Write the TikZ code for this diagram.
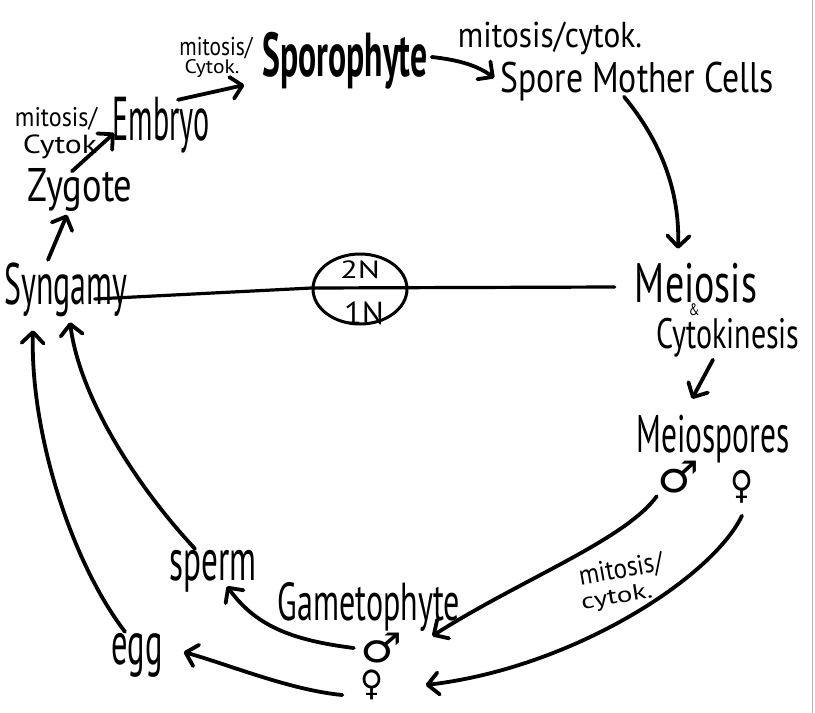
\documentclass[tikz,border=0pt]{standalone}
\usepackage{fontspec}
\setmainfont{PT Sans}
\newfontfamily\symfont{DejaVu Sans}
\usetikzlibrary{arrows.meta,calc,shapes.geometric}
\newcommand\hw[3]{\resizebox*{#1pt}{#2pt}{#3}}
\begin{document}
\begin{tikzpicture}[x=1pt,y=-1pt,
  lbl/.style={inner sep=0pt, font=\normalfont},
  big/.style={inner sep=0pt, font=\bfseries},
  sml/.style={inner sep=0pt, font=\normalfont},
  arr/.style={line width=3.8pt, line cap=round, line join=round, -{Straight Barb[length=11pt,width=22pt,line cap=round,line join=round]}},
  ln/.style={line width=3.2pt, line cap=round, line join=round}]
\useasboundingbox (0,0) rectangle (815,713);
\fill[white] (0,0) rectangle (815,713);
\draw[gray!60, line width=1.5pt] (812.5,0) -- (812.5,713);

% nodes
\node[big] (sporo) at (345,61) {\hw{165}{57}{Sporophyte}};
\node[lbl] (smc) at (637,82) {\hw{273}{39}{Spore Mother Cells}};
\node[sml] (mc1) at (550,38) {\hw{184}{33}{mitosis/cytok.}};
\node[sml] (mc2a) at (216,48) {\hw{73}{22}{mitosis/}};
\node[sml] (mc2b) at (212,69) {\hw{55}{18}{Cytok.}};
\node[lbl] (emb) at (161,125) {\hw{97}{56}{Embryo}};
\node[sml] (mc3a) at (56,119) {\hw{82}{23}{mitosis/}};
\node[sml] (mc3b) at (60,147) {\hw{74}{24}{Cytok}};
\node[lbl] (zyg) at (80,190) {\hw{105}{43}{Zygote}};
\node[lbl] (syn) at (66,290) {\hw{123}{54}{Syngamy}};
\node[draw, ellipse, line width=3pt, minimum width=94pt, minimum height=70pt] (pl) at (360,289) {};
\node[lbl] (n2) at (360,270) {\hw{40}{18}{2N}};
\node[lbl] (n1) at (364,313) {\hw{40}{23}{1N}};
\node[lbl] (meio) at (696,283) {\hw{122}{40}{Meiosis}};
\node[sml] (amp) at (694,310) {\hw{11}{12}{\&}};
\node[lbl] (cyt) at (728,338) {\hw{143}{39}{Cytokinesis}};
\node[lbl] (meos) at (713,439) {\hw{153}{48}{Meiospores}};
\node[lbl] (mm) at (678,477) {\hw{42}{32}{\symfont ♂}};
\node[lbl] (fm) at (742,487) {\hw{23}{33}{\symfont ♀}};
\node[sml, rotate=10] (mc4a) at (621,570) {\hw{85}{24}{mitosis/}};
\node[sml, rotate=9] (mc4b) at (617,598) {\hw{72}{20}{cytok.}};
\node[lbl] (game) at (369,607) {\hw{182}{49}{Gametophyte}};
\node[lbl] (gm) at (381,648) {\hw{42}{30}{\symfont ♂}};
\node[lbl] (fg) at (372,685) {\hw{23}{30}{\symfont ♀}};
\node[lbl] (sperm) at (213,571) {\hw{87}{42}{sperm}};
\node[lbl] (egg) at (137,655) {\hw{51}{44}{egg}};

% ploidy line
\draw[ln] ($(syn.east)+(-33,9)$) -- ($(pl.west)+(0,-1)$) -- ($(meio.west)+(-20,4)$);

% connectors
\draw[arr] ($(syn.north)+(-18,-3)$) -- ($(zyg.south)+(-13,3)$);
\draw[arr] ($(zyg.north)+(-8,3)$) -- ($(emb.west)+(2,8)$);
\draw[arr] ($(emb.north)+(17,3)$) -- ($(sporo.west)+(-18,24)$);
\draw[arr] ($(sporo.east)+(4,-4)$) .. controls (460,60) and (478,66) .. ($(smc.west)+(-6,-4)$);
\draw[arr] ($(smc.south)+(-13,-5)$) .. controls (660,140) and (680,190) .. ($(meio.north)+(-18,-14)$);
\draw[arr] ($(cyt.south)+(-15,2)$) -- ($(meos.north)+(-21,-16)$);
\draw[arr] ($(mm.south west)+(0,3)$) .. controls (625,540) and (520,580) .. ($(gm.east)+(30,-12)$);
\draw[arr] ($(fm.south)+(0,12)$) .. controls (712,578) and (572,668) .. ($(fg.east)+(42,0)$);
\draw[arr] ($(gm.west)+(-6,0)$) .. controls (290,640) and (255,625) .. ($(sperm.south)+(14,-6)$);
\draw[arr] ($(fg.west)+(-18,10)$) .. controls (290,690) and (230,665) .. ($(egg.east)+(21,-3)$);
\draw[arr] ($(egg.north)+(-12,-1)$) .. controls (70,560) and (30,430) .. ($(syn.south)+(-33,13)$);
\draw[arr] ($(sperm.north)+(-18,-1)$) .. controls (140,490) and (80,400) .. ($(syn.south)+(4,5)$);
\end{tikzpicture}
\end{document}
